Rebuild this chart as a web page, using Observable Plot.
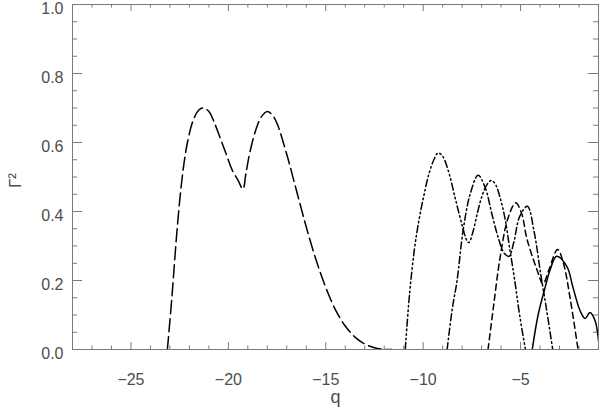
<!DOCTYPE html>
<html><head><meta charset="utf-8">
<script src="https://cdn.jsdelivr.net/npm/d3@7"></script>
<script src="https://cdn.jsdelivr.net/npm/@observablehq/plot@0.6"></script>
<style>body{margin:0;background:#fff}svg{display:block}</style>
</head><body><div id="chart"></div>
<script>
// Series A: long dashes
const qA = [-23.13,-22.9,-22.7,-22.5,-22.3,-22.1,-21.8,-21.5,-21.28,-21.0,-20.7,-20.4,-20.1,-19.8,-19.5,-19.25,-19.1,-18.9,-18.6,-18.3,-18.0,-17.75,-17.5,-17.0,-16.5,-16.0,-15.5,-15.0,-14.5,-14.0,-13.5,-13.0,-12.5,-12.0,-11.6];
const gA = [0,0.15,0.30,0.43,0.53,0.60,0.665,0.695,0.70,0.69,0.655,0.61,0.565,0.52,0.49,0.465,0.51,0.57,0.635,0.675,0.69,0.68,0.655,0.565,0.46,0.355,0.26,0.18,0.115,0.068,0.036,0.016,0.005,0.0005,0];
// Series B: dash-dot-dot-dot
const qB = [-10.92,-10.7,-10.45,-10.2,-9.95,-9.7,-9.45,-9.23,-9.0,-8.72,-8.36,-8.0,-7.75,-7.65,-7.45,-7.2,-6.95,-6.7,-6.5,-6.3,-6.05,-5.8,-5.55,-5.3,-5.05,-4.75];
const gB = [0,0.16,0.29,0.38,0.45,0.51,0.55,0.57,0.56,0.52,0.44,0.36,0.315,0.31,0.34,0.40,0.45,0.48,0.49,0.48,0.44,0.38,0.29,0.20,0.10,0];
// Series C: dash-dot
const qC = [-8.77,-8.5,-8.26,-7.95,-7.59,-7.18,-6.82,-6.46,-6.15,-5.85,-5.6,-5.35,-5.05,-4.65,-4.3,-3.97,-3.65,-3.35];
const gC = [0,0.12,0.2,0.345,0.45,0.505,0.47,0.39,0.325,0.28,0.27,0.31,0.385,0.415,0.34,0.22,0.11,0];
// Series D: short dashes
const qD = [-6.67,-6.4,-6.05,-5.65,-5.25,-4.95,-4.67,-4.15,-3.85,-3.55,-3.1,-2.8,-2.46,-2.05];
const gD = [0,0.12,0.267,0.38,0.425,0.395,0.32,0.23,0.19,0.23,0.29,0.25,0.15,0];
// Series E: solid
const qE = [-4.4,-4.1,-3.74,-3.49,-3.15,-2.62,-2.31,-1.95,-1.69,-1.44,-1.18,-1.0];
const gE = [0,0.10,0.18,0.23,0.27,0.24,0.18,0.113,0.09,0.107,0.084,0.026];

const xMajor = [-25,-20,-15,-10,-5];
const xMinor = [-27,-26,-24,-23,-22,-21,-19,-18,-17,-16,-14,-13,-12,-11,-9,-8,-7,-6,-4,-3,-2];
const yMajor = [0,0.2,0.4,0.6,0.8,1.0];
const yMinor = [0.05,0.1,0.15,0.25,0.3,0.35,0.45,0.5,0.55,0.65,0.7,0.75,0.85,0.9,0.95];

const rows = (qs, gs) => qs.map((q, i) => ({q, g: gs[i]}));
const W = 526, H = 345;
const axisCol = "#7a7a7a";
const txtCol = "#4d4d4d";
const lineOpts = {x: "q", y: "g", stroke: "#000", strokeWidth: 1.5, curve: "catmull-rom", clip: true};

const chart = Plot.plot({
  width: 600, height: 416,
  marginLeft: 72, marginRight: 2, marginTop: 4, marginBottom: 67,
  x: {domain: [-28, -1]},
  y: {domain: [0, 1]},
  style: {fontFamily: "'Liberation Sans', Arial, sans-serif", fontSize: "16px", color: txtCol, background: "#fff"},
  marks: [
    Plot.frame({stroke: axisCol}),
    Plot.tickX(xMajor, {x: d => d, insetTop: H - 7, stroke: axisCol}),
    Plot.tickX(xMinor, {x: d => d, insetTop: H - 3.5, stroke: axisCol}),
    Plot.tickX(xMajor, {x: d => d, insetBottom: H - 7, stroke: axisCol}),
    Plot.tickX(xMinor, {x: d => d, insetBottom: H - 3.5, stroke: axisCol}),
    Plot.tickY(yMajor, {y: d => d, insetRight: W - 10, stroke: axisCol}),
    Plot.tickY(yMinor, {y: d => d, insetRight: W - 5, stroke: axisCol}),
    Plot.tickY(yMajor, {y: d => d, insetLeft: W - 10, stroke: axisCol}),
    Plot.tickY(yMinor, {y: d => d, insetLeft: W - 5, stroke: axisCol}),
    Plot.axisX(xMajor, {tickSize: 0, tickPadding: 24, tickFormat: d3.format("d"), label: null, style: "letter-spacing:2px"}),
    Plot.axisY(yMajor, {tickSize: 0, tickPadding: 9, dy: 4, tickFormat: d3.format(".1f"), label: null, style: "letter-spacing:2px"}),
    Plot.text(["q"], {frameAnchor: "bottom", dy: 53, fontSize: 18, fill: txtCol}),
    Plot.text(["Γ²"], {frameAnchor: "left", dx: -57, dy: 11, rotate: -90, fontSize: 17, fill: txtCol}),
    Plot.line(rows(qA, gA), {...lineOpts, strokeDasharray: "13,5"}),
    Plot.line(rows(qB, gB), {...lineOpts, strokeDasharray: "7,3,1.5,3,1.5,3,1.5,3"}),
    Plot.line(rows(qC, gC), {...lineOpts, strokeDasharray: "7,3,1.5,3"}),
    Plot.line(rows(qD, gD), {...lineOpts, strokeDasharray: "6,4"}),
    Plot.line(rows(qE, gE), {...lineOpts})
  ]
});
document.getElementById("chart").appendChild(chart);
</script>
</body></html>
